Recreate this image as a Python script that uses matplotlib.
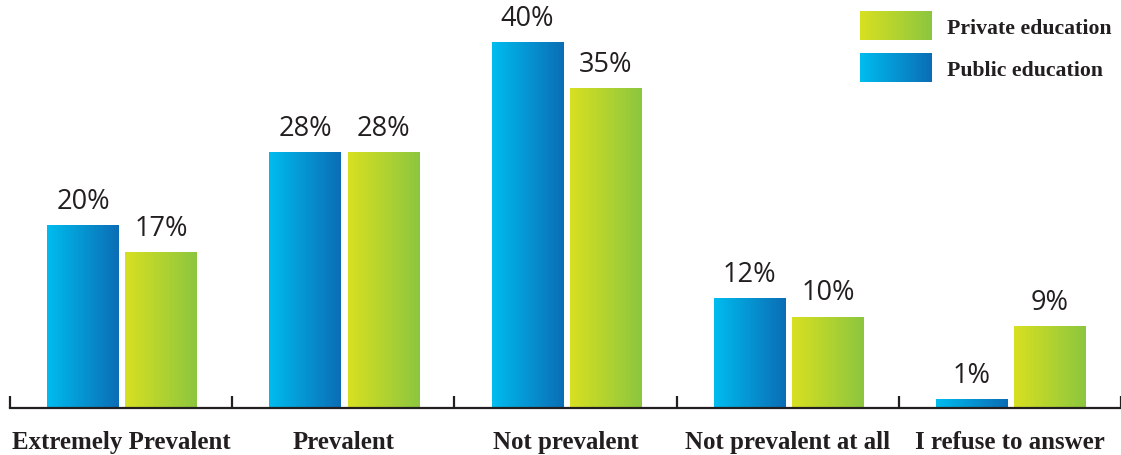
import numpy as np
import matplotlib.pyplot as plt
from matplotlib.colors import LinearSegmentedColormap

categories = ['Extremely Prevalent', 'Prevalent', 'Not prevalent',
              'Not prevalent at all', 'I refuse to answer']
public = [20, 28, 40, 12, 1]
private = [17, 28, 35, 10, 9]
series_names = ['Private education', 'Public education']

blue_cmap = LinearSegmentedColormap.from_list('blue', ['#00bcef', '#0b6db5'])
green_cmap = LinearSegmentedColormap.from_list('green', ['#d8e021', '#8cc63f'])
grad = np.linspace(0, 1, 256).reshape(1, -1)

W, H = 1121, 456
fig = plt.figure(figsize=(W / 100, H / 100), dpi=100)
ax = fig.add_axes([10 / W, 47 / H, 1 - 10 / W, 1 - 47 / H])
ax.set_xlim(0, 5)
ax.set_ylim(0, 44.7)

width = 0.324
x = np.arange(len(categories)) + 0.5


def grad_bar(ax, xc, h, cmap):
    bar = ax.bar(xc, h, width, color='none', edgecolor='none')[0]
    im = ax.imshow(grad, cmap=cmap, aspect='auto', interpolation='bicubic',
                   extent=[xc - width / 2, xc + width / 2, 0, h], zorder=2)
    im.set_clip_path(bar)
    return bar


label_font = dict(family=['Open Sans', 'DejaVu Sans'], size=19.5, color='#231f20')
for i in range(len(categories)):
    xb = x[i] - 0.171
    xg = x[i] + 0.181
    grad_bar(ax, xb, public[i], blue_cmap)
    grad_bar(ax, xg, private[i], green_cmap)
    ax.text(xb, public[i] + 1.1, '{}%'.format(public[i]), ha='center', va='bottom', **label_font)
    ax.text(xg, private[i] + 1.1, '{}%'.format(private[i]), ha='center', va='bottom', **label_font)

for s in ['top', 'right', 'left']:
    ax.spines[s].set_visible(False)
ax.spines['bottom'].set_color('#231f20')
ax.spines['bottom'].set_linewidth(1.6)
ax.set_yticks([])
ax.set_xticks(x)
ax.set_xticklabels(categories, family='Liberation Serif', weight='bold',
                   size=17.9, color='#231f20')
ax.tick_params(axis='x', which='major', length=0, pad=16)
ax.set_xticks(np.arange(0, 6), minor=True)
ax.tick_params(axis='x', which='minor', direction='in', length=9,
               width=1.6, color='#231f20')

# legend swatches
legend_cmaps = [green_cmap, blue_cmap]
legend_y = [12, 54]
for name, cm, ytop in zip(series_names, legend_cmaps, legend_y):
    lax = fig.add_axes([860 / W, 1 - (ytop + 29) / H, 72 / W, 29 / H])
    lax.imshow(grad, cmap=cm, aspect='auto', interpolation='bicubic')
    lax.axis('off')
    fig.text(947 / W, 1 - (ytop + 17) / H, name, family='Liberation Serif',
             weight='bold', size=15.7, color='#231f20', va='center', ha='left')

fig.savefig('out.png', dpi=100)
